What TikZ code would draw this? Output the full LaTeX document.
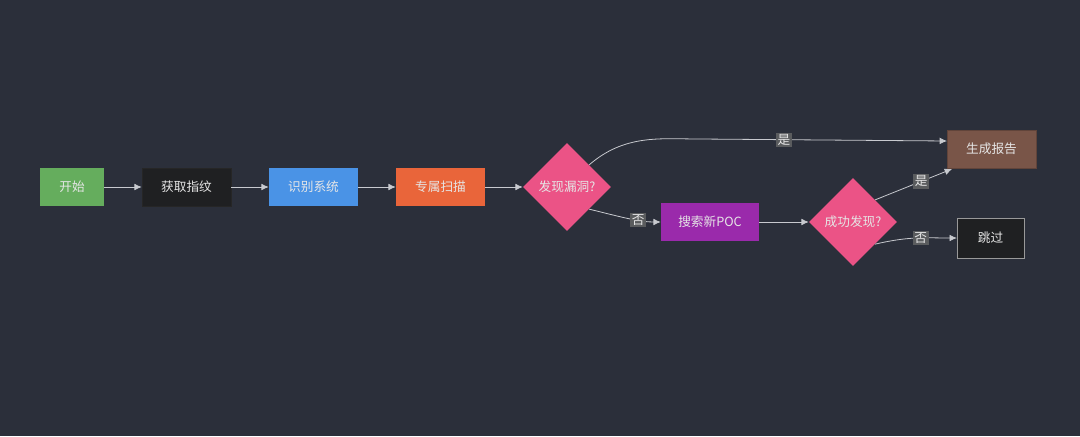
\documentclass[tikz,border=0pt]{standalone}
\usepackage{fontspec}
\setmainfont{Noto Sans CJK SC}
\usetikzlibrary{shapes.geometric,arrows.meta}
\definecolor{bg}{HTML}{2B2F3A}
\definecolor{txt}{HTML}{E6E6E6}
\definecolor{cgreen}{HTML}{65AD5D}
\definecolor{cdark}{HTML}{1F2022}
\definecolor{cblue}{HTML}{4A93E6}
\definecolor{corange}{HTML}{E9653A}
\definecolor{cpink}{HTML}{EB5386}
\definecolor{cpurple}{HTML}{9A2AAB}
\definecolor{cbrown}{HTML}{795548}
\definecolor{cline}{HTML}{C8CACF}
\definecolor{clab}{HTML}{5A5C5E}
\tikzset{
  box/.style={rectangle, minimum height=28.5pt, inner sep=0pt, text=txt, font=\fontsize{9.5}{11}\selectfont},
  dia/.style={diamond, fill=cpink, minimum width=66pt, minimum height=66pt, inner sep=0pt, text=txt, font=\fontsize{9.5}{11}\selectfont},
  conn/.style={draw=cline, line width=0.6pt, -{Latex[length=5.5pt,width=5pt]}},
  lab/.style={fill=clab, text=txt, inner sep=1.2pt, font=\fontsize{9.5}{11}\selectfont}
}
\begin{document}
\begin{tikzpicture}[x=0.75pt,y=-0.75pt]
\fill[bg] (0,0) rectangle (1080,436);
\useasboundingbox (0,0) rectangle (1080,436);
\node[box, fill=cgreen, minimum width=48pt] (start) at (72,187) {开始};
\node[box, fill=cdark, draw=black!85!white, minimum width=66.75pt] (fp) at (186.5,187) {获取指纹};
\node[box, fill=cblue, minimum width=66.75pt] (sys) at (313.5,187) {识别系统};
\node[box, fill=corange, minimum width=66.75pt] (scan) at (440.5,187) {专属扫描};
\node[dia] (vuln) at (567,187) {发现漏洞?};
\node[box, fill=cpurple, minimum width=73.5pt] (poc) at (710,222) {搜索新POC};
\node[dia] (ok) at (853,222) {成功发现?};
\node[box, fill=cbrown, draw=cbrown!80!black, minimum width=66.75pt] (rep) at (991.5,149) {生成报告};
\node[box, fill=cdark, draw=gray!80, minimum width=50pt, minimum height=30pt] (skip) at (990.5,238) {跳过};
\draw[conn] (start) -- (fp);
\draw[conn] (fp) -- (sys);
\draw[conn] (sys) -- (scan);
\draw[conn] (scan) -- (vuln);
\draw[conn] (vuln.north east) .. controls (625,134) and (660,139) .. (700,139) -- node[lab, pos=0.34] {是} (947,141);
\draw[conn] (vuln.south east) .. controls (625,218) and (640,222) .. node[lab, pos=0.62] {否} (poc.west);
\draw[conn] (poc) -- (ok);
\draw[conn] (ok.north east) -- node[lab, pos=0.6] {是} (952,169);
\draw[conn] (ok.south east) .. controls (910,236) and (925,238) .. node[lab, pos=0.55] {否} (skip.west);
\end{tikzpicture}
\end{document}
